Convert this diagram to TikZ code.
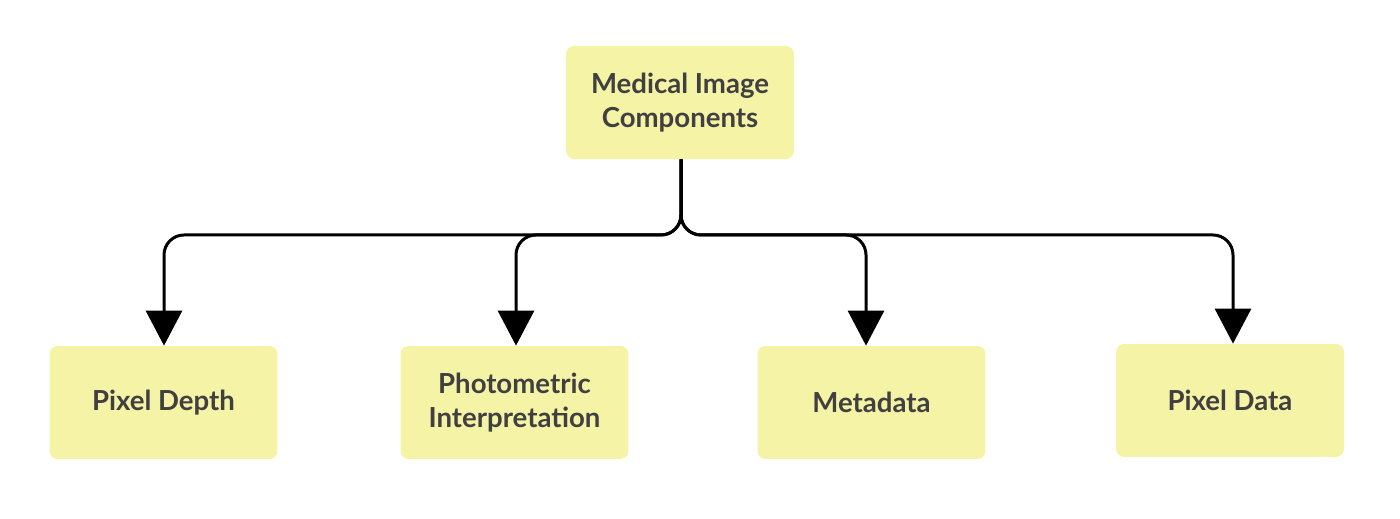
\documentclass[tikz,border=0pt]{standalone}
\usepackage{fontspec}
\setmainfont{Lato}
\usetikzlibrary{arrows.meta}
\definecolor{boxfill}{HTML}{F5F3A5}
\definecolor{boxtext}{HTML}{404040}
\tikzset{
  compbox/.style={fill=boxfill, rounded corners=0.16cm, minimum width=4.56cm,
    minimum height=2.26cm, align=center, text=boxtext,
    font=\fontsize{15.7}{19.5}\selectfont\bfseries},
  conn/.style={line width=0.06cm, rounded corners=0.4cm,
    -{Triangle[width=0.72cm,length=0.7cm]}}
}
\begin{document}
\begin{tikzpicture}[x=0.02cm,y=0.02cm]
	\useasboundingbox (0,0) rectangle (1400,519);
	\node[compbox] (root) at (680,416.5) {Medical Image\\Components};
	\node[compbox] (depth) at (163.5,116.5) {Pixel Depth};
	\node[compbox] (photo) at (514.5,116.5) {Photometric\\Interpretation};
	\node[compbox] (meta) at (871.5,116.5) {Metadata};
	\node[compbox] (pdata) at (1230,118.5) {Pixel Data};
	\coordinate (split) at (681,284);
	% branches
	\draw[conn] ([xshift=0.02cm]root.south) -- (split) -| ([xshift=0.01cm]depth.north);
	\draw[conn] ([xshift=0.02cm]root.south) -- (split) -| ([xshift=0.03cm]photo.north);
	\draw[conn] ([xshift=0.02cm]root.south) -- (split) -| ([xshift=-0.11cm]meta.north);
	\draw[conn] ([xshift=0.02cm]root.south) -- (split) -| ([xshift=0.06cm]pdata.north);
\end{tikzpicture}
\end{document}
